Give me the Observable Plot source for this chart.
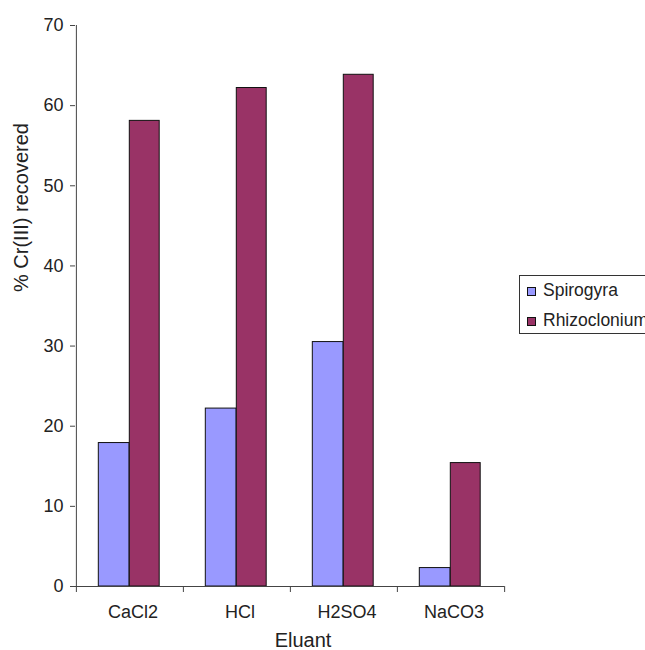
<!DOCTYPE html>
<html>
<head>
<meta charset="utf-8">
<script src="https://cdn.jsdelivr.net/npm/d3@7"></script>
<script src="https://cdn.jsdelivr.net/npm/@observablehq/plot@0.6"></script>
<style>
  html, body { margin: 0; padding: 0; background: white; overflow: hidden; }
  #wrap { position: relative; width: 645px; height: 650px; font-family: "Liberation Sans", Arial, sans-serif; }
  #legend { position: absolute; left: 519px; top: 275px; width: 160px; height: 57px; border: 1px solid #333; background: white; }
  .sw { position: absolute; width: 7px; height: 7px; border: 1px solid #111; }
  .lt { position: absolute; font-size: 17.5px; color: #222; line-height: 1; }
</style>
</head>
<body>
<div id="wrap"></div>
<script>
const eluants = ["CaCl2", "HCl", "H2SO4", "NaCO3"];
const spirogyra = [17.9, 22.2, 30.5, 2.3];
const rhizoclonium = [58.1, 62.2, 63.85, 15.4];
const seriesNames = ["Spirogyra", "Rhizoclonium"];
const seriesColors = ["#9999ff", "#993366"];
const yTicks = [0, 10, 20, 30, 40, 50, 60, 70];

const rows = eluants.map((e, i) => ({eluant: e, spirogyra: spirogyra[i], rhizoclonium: rhizoclonium[i]}));

const W = 645, H = 650, mL = 75, mR = 141, mT = 25, mB = 64;
const step = (W - mL - mR) / eluants.length;
const pxPerUnit = (H - mT - mB) / 70;

const chart = Plot.plot({
  width: W, height: H,
  marginLeft: mL, marginRight: mR, marginTop: mT, marginBottom: mB,
  x: {domain: eluants, padding: 0, axis: null},
  y: {domain: [0, 70], axis: null},
  style: {fontFamily: "'Liberation Sans', Arial, sans-serif", color: "#222", background: "white", overflow: "visible"},
  marks: [
    Plot.barY(rows, {x: "eluant", y: "spirogyra", fill: seriesColors[0], stroke: "#111", strokeWidth: 1,
      insetLeft: step * 0.208, insetRight: step * 0.503}),
    Plot.barY(rows, {x: "eluant", y: "rhizoclonium", fill: seriesColors[1], stroke: "#111", strokeWidth: 1,
      insetLeft: step * 0.497, insetRight: step * 0.222}),
    Plot.axisY({ticks: yTicks, tickSize: 5, tickPadding: 7, fontSize: 18, label: null, stroke: "#444"}),
    Plot.axisX({tickSize: 0, tickPadding: 19, fontSize: 18, label: null, dx: 3}),
    Plot.ruleY([0], {stroke: "#444"}),
    Plot.ruleX([eluants[0]], {x: d => d, dx: -step / 2, y1: 0, y2: 70, stroke: "#444"}),
    Plot.ruleX(eluants, {x: d => d, dx: -step / 2, y1: 0, y2: -6 / pxPerUnit, stroke: "#444"}),
    Plot.ruleX([eluants[eluants.length - 1]], {x: d => d, dx: step / 2, y1: 0, y2: -6 / pxPerUnit, stroke: "#444"}),
    Plot.text(["% Cr(III) recovered"], {frameAnchor: "left", rotate: -90, dx: -53.5, dy: -14, fontSize: 20, fill: "#222"}),
    Plot.text(["Eluant"], {frameAnchor: "bottom", dx: 13, dy: 60, fontSize: 20, fill: "#222"})
  ]
});

const wrap = document.getElementById("wrap");
wrap.appendChild(chart);

const legend = document.createElement("div");
legend.id = "legend";
seriesNames.forEach((name, i) => {
  const sw = document.createElement("div");
  sw.className = "sw";
  sw.style.left = "7px";
  sw.style.top = (11 + i * 29.5) + "px";
  sw.style.background = seriesColors[i];
  legend.appendChild(sw);
  const t = document.createElement("div");
  t.className = "lt";
  t.style.left = "23px";
  t.style.top = (6 + i * 29.5) + "px";
  t.textContent = name;
  legend.appendChild(t);
});
wrap.appendChild(legend);
</script>
</body>
</html>
